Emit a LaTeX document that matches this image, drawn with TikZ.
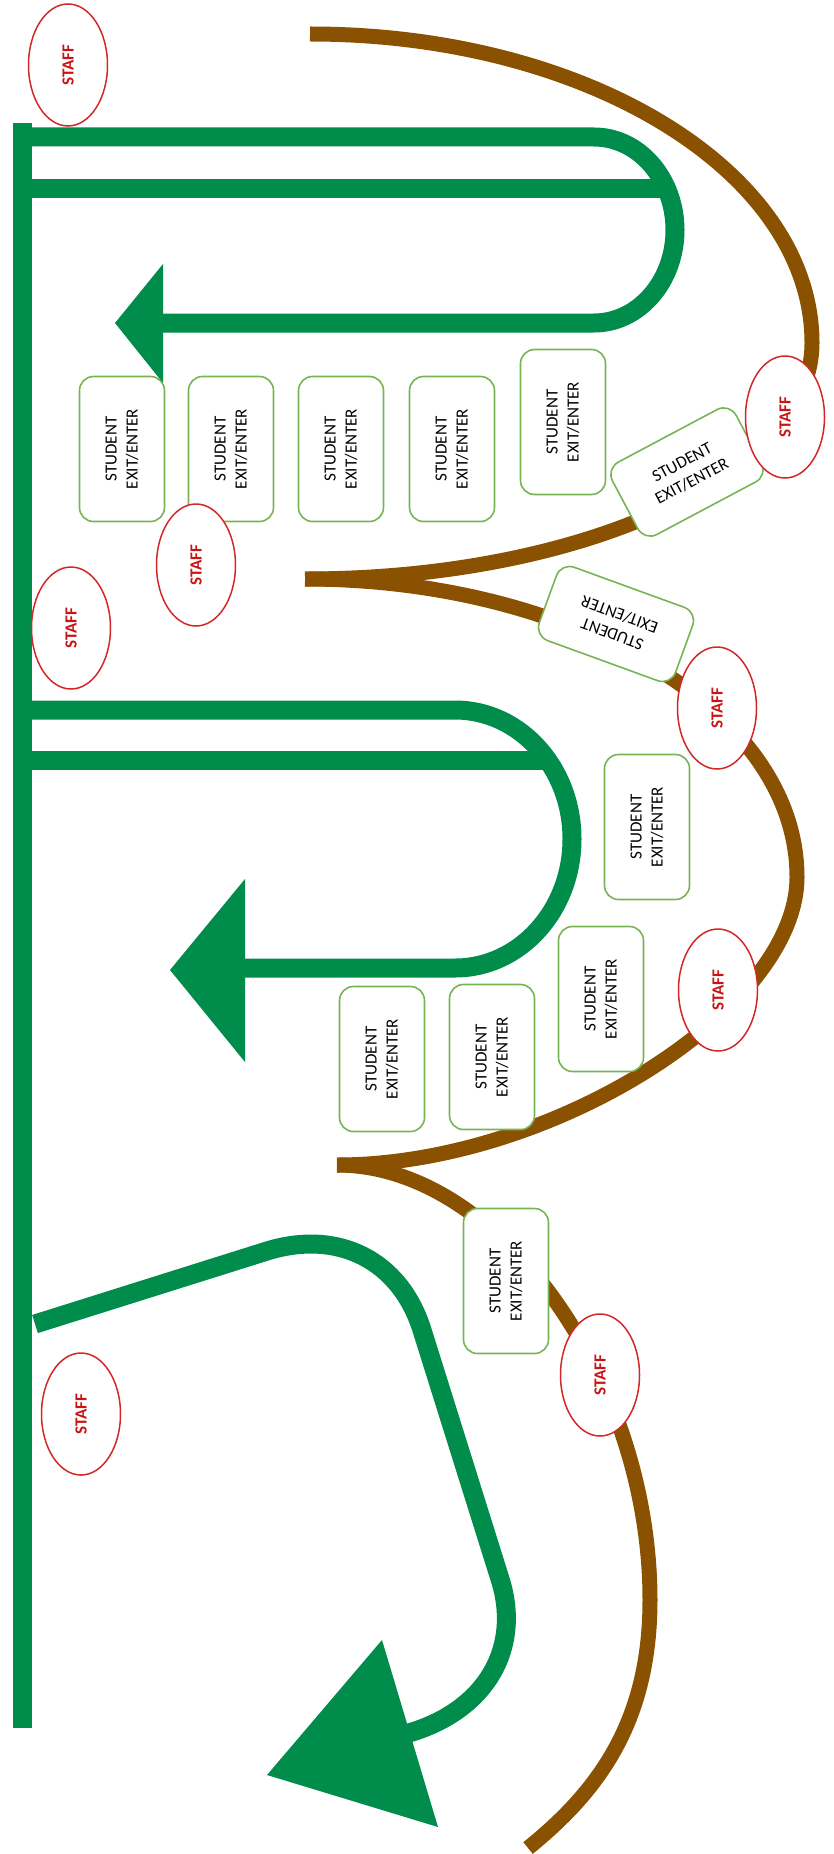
\documentclass[tikz,border=0pt]{standalone}
\usepackage{fontspec}
\setmainfont{Carlito}
\usetikzlibrary{shapes.geometric}
\definecolor{grn}{RGB}{0,140,75}
\definecolor{brn}{RGB}{138,82,0}
\definecolor{boxg}{RGB}{120,180,85}
\definecolor{stred}{RGB}{210,40,40}
\definecolor{sttxt}{RGB}{200,20,20}
\begin{document}
\begin{tikzpicture}[x=1pt,y=-1pt,
  gline/.style={line width=19pt, draw=grn},
  vline/.style={line width=19pt, draw=grn},
  bline/.style={line width=15pt, draw=brn},
  sbox/.style={draw=boxg, line width=1.6pt, fill=white, rounded corners=14pt,
    minimum width=145pt, minimum height=85pt, align=center, inner sep=2pt,
    font=\fontsize{17}{21}\selectfont, text=black},
  staff/.style={ellipse, draw=stred, line width=1.5pt, fill=white,
    minimum width=122pt, minimum height=79pt, inner sep=0pt, rotate=90,
    font=\bfseries\fontsize{17}{20}\selectfont, text=sttxt},
  ahead/.style={fill=grn, draw=none}
]
\useasboundingbox (0,0) rectangle (834,1854);
\fill[white] (0,0) rectangle (834,1854);

% brown arcs
\draw[bline] (310,34) .. controls (587,34) and (812,172) .. (812,343)
  .. controls (812,473) and (585,579) .. (305,579);
\draw[bline] (305,579) .. controls (573,579) and (797,710) .. (797,877)
  .. controls (797,1010) and (550,1165) .. (337,1165);
\draw[bline] (337,1165) .. controls (500,1165) and (650,1380) .. (650,1600)
  .. controls (650,1720) and (600,1790) .. (528,1848);

% green vertical
\draw[vline] (22,123) -- (22,1728);

% section 1
\draw[gline] (22,189) -- (666,189);
\draw[gline] (22,137) -- (594,137) .. controls (639,137) and (675,179) .. (675,230)
  .. controls (675,281) and (639,323) .. (594,323) -- (160,323);
\fill[ahead] (115,323) -- (163,264) -- (163,383) -- cycle;

% section 2
\draw[gline] (22,760) -- (547,760);
\draw[gline] (22,710) -- (455,710) .. controls (520,710) and (572,768) .. (572,839)
  .. controls (572,910) and (520,968) .. (455,968) -- (242,968);
\fill[ahead] (170,970) -- (245,879) -- (245,1062) -- cycle;

% section 3
\draw[gline] (35,1324) -- (267,1251) .. controls (338,1229) and (400,1260) .. (422,1330)
  -- (500,1579) .. controls (522,1648) and (486,1709) .. (412,1732) -- (402,1735);
\fill[ahead] (382,1640) -- (438,1827) -- (267,1775) -- cycle;

% student boxes
\node[sbox, rotate=90] (b1) at (122,449) {STUDENT\\EXIT/ENTER};
\node[sbox, rotate=90] (b2) at (231,449) {STUDENT\\EXIT/ENTER};
\node[sbox, rotate=90] (b3) at (341,449) {STUDENT\\EXIT/ENTER};
\node[sbox, rotate=90] (b4) at (452,449) {STUDENT\\EXIT/ENTER};
\node[sbox, rotate=90] (b5) at (563,422) {STUDENT\\EXIT/ENTER};
\node[sbox, rotate=28, minimum width=140pt, minimum height=82pt] (b6) at (687,472) {STUDENT\\EXIT/ENTER};
\node[sbox, rotate=160, minimum width=145pt, minimum height=78pt] (b7) at (616,624) {STUDENT\\EXIT/ENTER};
\node[sbox, rotate=90] (b8) at (647,827) {STUDENT\\EXIT/ENTER};
\node[sbox, rotate=90] (b9) at (601,999) {STUDENT\\EXIT/ENTER};
\node[sbox, rotate=90] (b10) at (492,1057) {STUDENT\\EXIT/ENTER};
\node[sbox, rotate=90] (b11) at (382,1059) {STUDENT\\EXIT/ENTER};
\node[sbox, rotate=90] (b12) at (506,1281) {STUDENT\\EXIT/ENTER};

% staff ellipses
\node[staff] (s1) at (68,65) {STAFF};
\node[staff] (s2) at (785,417) {STAFF};
\node[staff] (s3) at (196,565) {STAFF};
\node[staff] (s4) at (71,628) {STAFF};
\node[staff] (s5) at (717,708) {STAFF};
\node[staff] (s6) at (718,990) {STAFF};
\node[staff] (s7) at (81,1414) {STAFF};
\node[staff] (s8) at (600,1375) {STAFF};
\end{tikzpicture}
\end{document}
